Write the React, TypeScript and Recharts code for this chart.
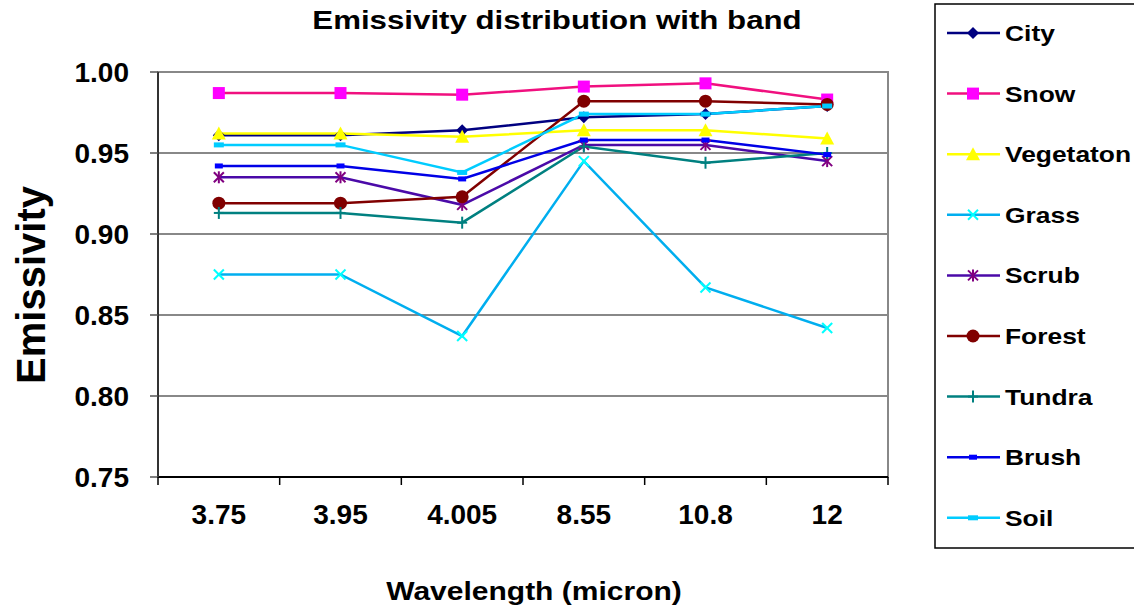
import React from 'react';
import { LineChart, Line, XAxis, YAxis, CartesianGrid, ReferenceArea, Legend } from 'recharts';

const categories = ['3.75', '3.95', '4.005', '8.55', '10.8', '12'];
const city = [0.961, 0.961, 0.964, 0.972, 0.974, 0.979];
const snow = [0.987, 0.987, 0.986, 0.991, 0.993, 0.983];
const vegetation = [0.962, 0.962, 0.960, 0.964, 0.964, 0.959];
const grass = [0.875, 0.875, 0.837, 0.945, 0.867, 0.842];
const scrub = [0.935, 0.935, 0.918, 0.955, 0.955, 0.945];
const forest = [0.919, 0.919, 0.923, 0.982, 0.982, 0.980];
const tundra = [0.913, 0.913, 0.907, 0.954, 0.944, 0.950];
const brush = [0.942, 0.942, 0.934, 0.958, 0.958, 0.949];
const soil = [0.955, 0.955, 0.938, 0.974, 0.974, 0.979];
const yTicks = [0.75, 0.8, 0.85, 0.9, 0.95, 1.0];

const seriesNames = ['City', 'Snow', 'Vegetaton', 'Grass', 'Scrub', 'Forest', 'Tundra', 'Brush', 'Soil'];
const seriesValues = [city, snow, vegetation, grass, scrub, forest, tundra, brush, soil];

const styles = [
  { line: '#000080', marker: '#000080', shape: 'diamond' },
  { line: '#F0107F', marker: '#FF00FF', shape: 'square' },
  { line: '#FFFF00', marker: '#FFFF00', shape: 'triangle' },
  { line: '#00AEEF', marker: '#00FFFF', shape: 'x' },
  { line: '#4B0AA8', marker: '#800080', shape: 'star' },
  { line: '#800000', marker: '#800000', shape: 'circle' },
  { line: '#008080', marker: '#008080', shape: 'plus' },
  { line: '#0000E6', marker: '#0000FF', shape: 'dash' },
  { line: '#00CCFF', marker: '#00CCFF', shape: 'longdash' },
];

const data = categories.map((c, i) => {
  const row: any = { x: i + 0.5, cat: c };
  seriesNames.forEach((n, k) => { row[n] = seriesValues[k][i]; });
  return row;
});

const xTicks: number[] = [];
for (let i = 0; i <= categories.length * 2; i++) xTicks.push(i / 2);

const FONT = '"Liberation Sans", Arial, sans-serif';

function Marker({ shape, cx, cy, fill }: any) {
  if (cx == null || cy == null) return null;
  switch (shape) {
    case 'diamond':
      return <polygon points={`${cx},${cy - 6} ${cx + 6},${cy} ${cx},${cy + 6} ${cx - 6},${cy}`} fill={fill} />;
    case 'square':
      return <rect x={cx - 6} y={cy - 6} width={12} height={12} fill={fill} />;
    case 'triangle':
      return <polygon points={`${cx},${cy - 7} ${cx + 7},${cy + 6} ${cx - 7},${cy + 6}`} fill={fill} />;
    case 'x':
      return (
        <g stroke={fill} strokeWidth={2}>
          <line x1={cx - 5} y1={cy - 5} x2={cx + 5} y2={cy + 5} />
          <line x1={cx - 5} y1={cy + 5} x2={cx + 5} y2={cy - 5} />
        </g>
      );
    case 'star':
      return (
        <g stroke={fill} strokeWidth={2}>
          <line x1={cx - 5} y1={cy - 5} x2={cx + 5} y2={cy + 5} />
          <line x1={cx - 5} y1={cy + 5} x2={cx + 5} y2={cy - 5} />
          <line x1={cx} y1={cy - 6} x2={cx} y2={cy + 6} />
        </g>
      );
    case 'circle':
      return <circle cx={cx} cy={cy} r={6.5} fill={fill} />;
    case 'plus':
      return (
        <g stroke={fill} strokeWidth={2}>
          <line x1={cx} y1={cy - 6} x2={cx} y2={cy + 6} />
          <line x1={cx - 5} y1={cy} x2={cx + 5} y2={cy} />
        </g>
      );
    case 'dash':
      return <rect x={cx - 4} y={cy - 2.5} width={8} height={5} fill={fill} />;
    case 'longdash':
      return <rect x={cx - 5} y={cy - 2.5} width={10} height={5} fill={fill} />;
    default:
      return null;
  }
}

const XTick = (props: any) => {
  const { x, y, payload } = props;
  const v = payload.value;
  if (Number.isInteger(v)) {
    return <line x1={x} x2={x} y1={y} y2={y + 8} stroke="#000" strokeWidth={1.5} />;
  }
  const label = categories[Math.floor(v)];
  return (
    <text x={x} y={y + 47} textAnchor="middle" fontSize={28} fontWeight="bold" fontFamily={FONT} fill="#000">
      {label}
    </text>
  );
};

const LegendContent = () => (
  <svg width={210} height={546} style={{ display: 'block' }}>
    <rect x={1} y={1} width={215} height={544} fill="#fff" stroke="#000" strokeWidth={1.5} />
    {seriesNames.map((n, i) => {
      const cy = 30 + i * 60.6;
      const s = styles[i];
      return (
        <g key={n}>
          <line x1={13} x2={66} y1={cy} y2={cy} stroke={s.line} strokeWidth={2.5} />
          <Marker shape={s.shape} cx={39} cy={cy} fill={s.marker} />
          <text transform={`translate(71,${cy + 8}) scale(1.2,1)`} fontSize={22} fontWeight="bold" fontFamily={FONT} fill="#000">
            {n}
          </text>
        </g>
      );
    })}
  </svg>
);

export default function App() {
  return (
    <div style={{ position: 'absolute', left: 0, top: 0, width: 1134, height: 611, background: '#fff', fontFamily: FONT }}>
      <LineChart width={1134} height={611} data={data} margin={{ top: 72, right: 246, bottom: 74, left: 8 }}>
        <CartesianGrid horizontal vertical={false} stroke="#888" strokeWidth={2} />
        <ReferenceArea x1={0} x2={6} y1={0.75} y2={1.0} fill="none" stroke="#888" strokeWidth={2} />
        <XAxis
          dataKey="x"
          type="number"
          domain={[0, 6]}
          ticks={xTicks}
          interval={0}
          tickSize={0}
          tickMargin={0}
          tickLine={false}
          tick={<XTick />}
          height={60}
          axisLine={{ stroke: '#000', strokeWidth: 2 }}
        />
        <YAxis
          domain={[0.75, 1.0]}
          ticks={yTicks}
          interval={0}
          width={150}
          tickSize={8}
          tickMargin={21}
          tickFormatter={(v: number) => v.toFixed(2)}
          tick={{ fontSize: 28, fontWeight: 'bold', fill: '#000', fontFamily: FONT }}
          tickLine={{ stroke: '#555', strokeWidth: 1.5 }}
          axisLine={{ stroke: '#333', strokeWidth: 2 }}
        />
        <Legend
          layout="vertical"
          align="center"
          verticalAlign="middle"
          content={<LegendContent />}
          wrapperStyle={{ position: 'absolute', left: 934, top: 3, width: 210, height: 546, bottom: 'auto', right: 'auto' }}
        />
        {seriesNames.map((n, i) => (
          <Line
            key={n}
            dataKey={n}
            stroke={styles[i].line}
            strokeWidth={2.5}
            isAnimationActive={false}
            dot={(p: any) => <Marker key={`${n}-${p.index}`} shape={styles[i].shape} cx={p.cx} cy={p.cy} fill={styles[i].marker} />}
            activeDot={false}
          />
        ))}
      </LineChart>
      <svg width={1134} height={611} style={{ position: 'absolute', left: 0, top: 0, pointerEvents: 'none' }}>
        <text transform="translate(557,29) scale(1.25,1)" textAnchor="middle" fontSize={25} fontWeight="bold" fontFamily={FONT} fill="#000">
          Emissivity distribution with band
        </text>
        <text transform="translate(534,600) scale(1.2,1)" textAnchor="middle" fontSize={25} fontWeight="bold" fontFamily={FONT} fill="#000">
          Wavelength (micron)
        </text>
        <text transform="translate(45,285) rotate(-90)" textAnchor="middle" fontSize={40} fontWeight="bold" fontFamily={FONT} fill="#000">
          Emissivity
        </text>
      </svg>
    </div>
  );
}
